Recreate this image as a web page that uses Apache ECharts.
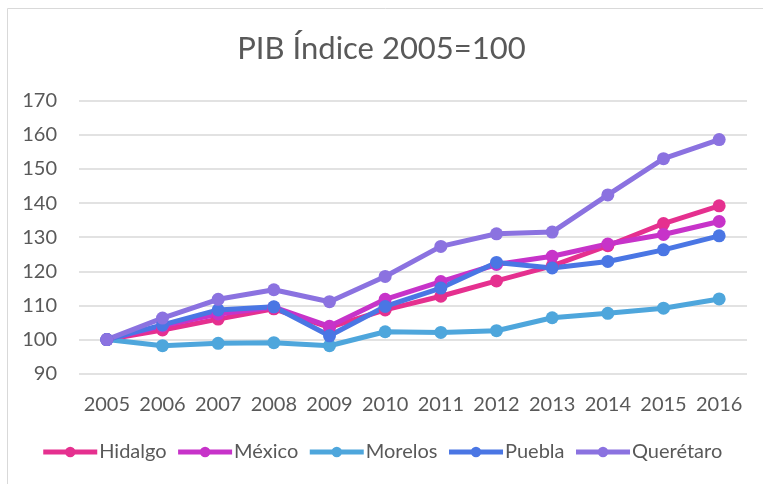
<!DOCTYPE html>
<html>
<head>
<meta charset="utf-8">
<script src="https://cdn.jsdelivr.net/npm/echarts@6/dist/echarts.min.js"></script>
<style>
html,body{margin:0;padding:0;background:#fff}
#main{width:763px;height:484px}
</style>
</head>
<body>
<div id="main"></div>
<script>
var years = ['2005','2006','2007','2008','2009','2010','2011','2012','2013','2014','2015','2016'];
var hidalgo   = [100, 102.8, 106.0, 109.0, 103.6, 108.7, 112.7, 117.2, 121.6, 127.5, 134.0, 139.2];
var mexico    = [100, 104.0, 107.5, 109.5, 103.9, 111.8, 117.0, 122.0, 124.4, 128.0, 130.8, 134.6];
var morelos   = [100, 98.2, 98.9, 99.1, 98.2, 102.3, 102.1, 102.6, 106.4, 107.7, 109.2, 111.9];
var puebla    = [100, 104.3, 108.7, 109.6, 101.1, 109.7, 115.1, 122.6, 121.0, 122.9, 126.3, 130.4];
var queretaro = [100, 106.3, 111.8, 114.6, 111.1, 118.5, 127.3, 131.0, 131.5, 142.4, 153.0, 158.6];

var names  = ['Hidalgo','México','Morelos','Puebla','Querétaro'];
var colors = ['#E5308F','#C733C9','#4EA6DC','#4A76E4','#8B72E0'];
var values = [hidalgo, mexico, morelos, puebla, queretaro];

var chart = echarts.init(document.getElementById('main'));
var font = 'Lato, "Open Sans", sans-serif';

var series = [];
names.forEach(function(n, i){
    series.push({
        name: n,
        type: 'line',
        data: values[i],
        symbol: 'circle',
        symbolSize: 13,
        lineStyle: {width: 5, color: colors[i]},
        itemStyle: {color: colors[i]},
        emphasis: {disabled: true}
    });
});

chart.setOption({
    animation: false,
    color: colors,
    title: {
        text: 'PIB Índice 2005=100',
        left: 'center',
        top: 28,
        textStyle: {fontFamily: font, fontSize: 31, fontWeight: 'normal', color: '#595959'}
    },
    graphic: [{
        type: 'rect',
        shape: {x: 7.5, y: 8.5, width: 800, height: 600},
        style: {fill: 'none', stroke: '#d9d9d9', lineWidth: 1}
    }],
    legend: {
        bottom: 17,
        left: 'center',
        itemWidth: 54,
        itemHeight: 13,
        itemGap: 9,
        data: names,
        lineStyle: {width: 5},
        textStyle: {fontFamily: font, fontSize: 20, color: '#595959', padding: [0,0,0,-3]}
    },
    grid: {left: 79, right: 16, top: 100.7, bottom: 110.3},
    xAxis: {
        type: 'category',
        data: years,
        boundaryGap: true,
        axisLine: {show: false},
        axisTick: {show: false},
        axisLabel: {interval: 0, fontFamily: font, fontSize: 20, color: '#595959', margin: 21}
    },
    yAxis: {
        type: 'value',
        min: 90,
        max: 170,
        interval: 10,
        axisLine: {show: false},
        axisTick: {show: false},
        splitLine: {lineStyle: {color: '#d9d9d9', width: 1.5}},
        axisLabel: {fontFamily: font, fontSize: 20, color: '#595959', margin: 22}
    },
    series: series
});
</script>
</body>
</html>
